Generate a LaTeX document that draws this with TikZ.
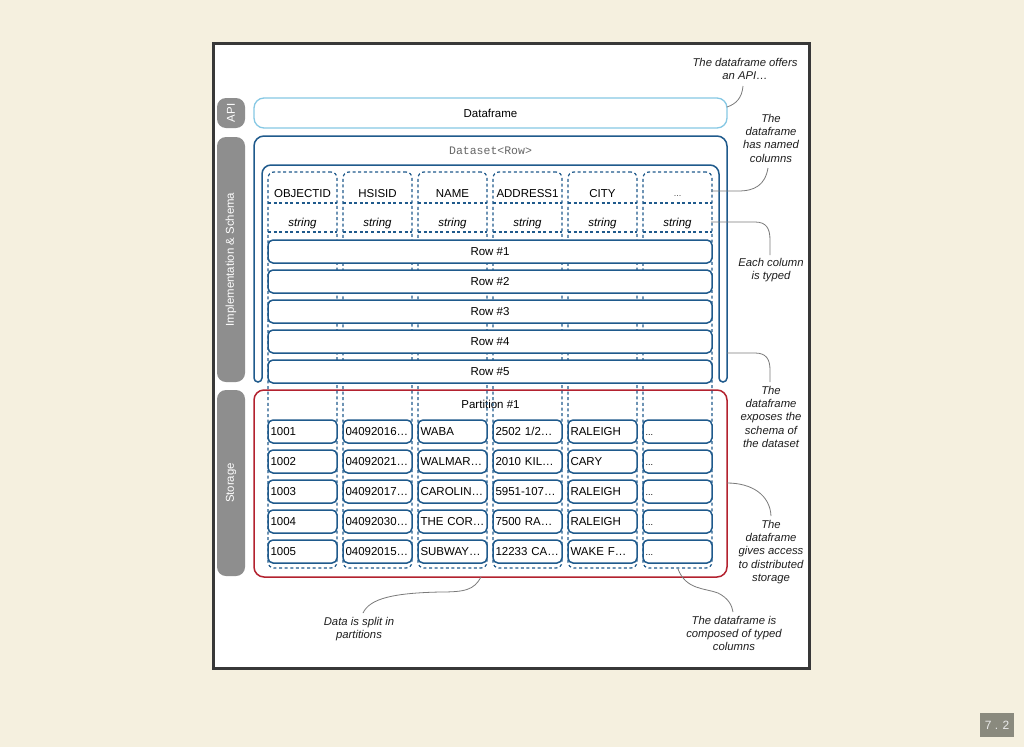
\documentclass[tikz,border=0pt]{standalone}
\usepackage{fontspec}
\setmainfont{Liberation Sans}
\setmonofont{Liberation Mono}
\definecolor{bgc}{HTML}{F5F0DF}
\definecolor{framec}{HTML}{383838}
\definecolor{labgray}{HTML}{8E8E8E}
\definecolor{dfblue}{HTML}{86C8E4}
\definecolor{dsblue}{HTML}{1F5A8C}
\definecolor{partred}{HTML}{B3222F}
\definecolor{connc}{HTML}{7A7A7A}
\definecolor{annc}{HTML}{1E1E1E}
\definecolor{pgbox}{HTML}{8A8A7E}
\newcommand\fsmain{\fontsize{11.5}{13.5}\selectfont}
\newcommand\mkcellrow[7]{%
  \node[cell] (c#1a) at (268,#2) {\mbox{#3}};
  \node[cell] (c#1b) at (343,#2) {\mbox{#4}};
  \node[cell] (c#1c) at (418,#2) {\mbox{#5}};
  \node[cell] (c#1d) at (493,#2) {\mbox{#6}};
  \node[cell] (c#1e) at (568,#2) {\mbox{#7}};
  \node[cell] (c#1f) at (643,#2) {{\fontsize{9}{10}\selectfont ...}};
}
\begin{document}
\begin{tikzpicture}[x=1pt,y=-1pt,
  every node/.style={inner sep=0pt, outer sep=0pt},
  sidebox/.style={fill=labgray, rounded corners=9, text=white, font=\fontsize{11.4}{13}\selectfont, rotate=90, minimum height=28},
  dfbox/.style={draw=dfblue, line width=1.3, rounded corners=10, fill=white, font=\fsmain, text=annc},
  dsframe/.style={draw=dsblue, line width=1.5},
  partbox/.style={draw=partred, line width=1.5, rounded corners=10},
  coldash/.style={draw=dsblue, line width=1.2, dash pattern=on 3pt off 2.6pt, rounded corners=6},
  colline/.style={draw=dsblue, line width=1.2, dash pattern=on 3pt off 2.6pt},
  rowbox/.style={draw=dsblue, line width=1.5, fill=white, rounded corners=5, minimum width=444, minimum height=23, text height=8.3, text depth=0pt, font=\fsmain, anchor=north west},
  cell/.style={draw=dsblue, line width=1.5, fill=white, rounded corners=5, minimum height=23, text width=64, align=left, inner xsep=2.5, text height=8.3, text depth=0pt, font=\fsmain, anchor=north west},
  hdr/.style={font=\fsmain, anchor=base},
  typ/.style={font=\fsmain\itshape, anchor=base},
  ann/.style={font=\fontsize{11.3}{13.3}\selectfont\itshape, align=center, text=annc, anchor=north},
  conn/.style={draw=connc, line width=0.8}
]
\fill[bgc] (0,0) rectangle (1024,747);
\useasboundingbox (0,0) rectangle (1024,747);
% slide frame
\draw[framec, line width=3.5, fill=white] (213.5,43.5) rectangle (809.5,668.5);
% page number
\node[fill=pgbox, minimum width=34, minimum height=24, text=white!92!black, font=\fontsize{12}{14}\selectfont] (pg) at (997,725) {7 . 2};
% side labels
\node[sidebox, minimum width=30] (sapi) at (231,113) {API};
\node[sidebox, minimum width=245] (simp) at (231,259.5) {Implementation \& Schema};
\node[sidebox, minimum width=186] (ssto) at (231,483) {Storage};
% Dataframe
\node[dfbox, minimum width=473, minimum height=30, anchor=north west] (df) at (254,98) {};
\node[font=\fsmain, anchor=base] (dft) at (490.5,117) {Dataframe};
% Dataset frame
\draw[dsframe] (254,300) [rounded corners=10] -- (254,136) -- (727,136) -- (727,300) [rounded corners=4] -- (727,382) -- (719,382) -- (719,300) [rounded corners=9] -- (719,165) -- (262,165) -- (262,300) [rounded corners=4] -- (262,382) -- (254,382) -- cycle;
\node[font=\fontsize{11.5}{13.5}\selectfont\ttfamily, text=black!60, anchor=base] (dst) at (490.5,154) {Dataset<Row>};
% Partition
\node[partbox, minimum width=473, minimum height=187, anchor=north west] (part) at (254,390) {};
\node[font=\fsmain, anchor=base] (ptt) at (490.5,408) {Partition \#1};
% columns
\foreach \i in {0,...,5}{
  \node[coldash, minimum width=69, minimum height=396, anchor=north west] (col\i) at (268+75*\i,172) {};
  \draw[colline] (268+75*\i,203) -- ++(69,0);
  \draw[colline] (268+75*\i,232) -- ++(69,0);
}
\foreach \i/\h in {0/OBJECTID,1/HSISID,2/NAME,3/ADDRESS1,4/CITY}{
  \node[hdr] (h\i) at (302.5+75*\i,197) {\h};
}
\node[hdr, font=\fontsize{9}{10}\selectfont, text=black!70] (h5) at (677.5,196) {...};
\foreach \i in {0,...,5}{
  \node[typ] (t\i) at (302.5+75*\i,226) {string};
}
% rows
\foreach \j in {1,...,5}{
  \node[rowbox] (r\j) at (268,210+30*\j) {Row \#\j};
}
% cells
\mkcellrow{1}{420}{1001}{04092016…}{WABA}{2502 1/2…}{RALEIGH}
\mkcellrow{2}{450}{1002}{04092021…}{WALMAR…}{2010 KIL…}{CARY}
\mkcellrow{3}{480}{1003}{04092017…}{CAROLIN…}{5951-107…}{RALEIGH}
\mkcellrow{4}{510}{1004}{04092030…}{THE COR…}{7500 RA…}{RALEIGH}
\mkcellrow{5}{540}{1005}{04092015…}{SUBWAY…}{12233 CA…}{WAKE F…}
% annotations
\node[ann] (n1) at (745,58) {The dataframe offers\\an API…};
\node[ann] (n2) at (771,114) {The\\dataframe\\has named\\columns};
\node[ann] (n3) at (771,258.5) {Each column\\is typed};
\node[ann] (n4) at (771,386) {The\\dataframe\\exposes the\\schema of\\the dataset};
\node[ann] (n5) at (771,520) {The\\dataframe\\gives access\\to distributed\\storage};
\node[ann] (n6) at (359,617) {Data is split in\\partitions};
\node[ann] (n7) at (734,616) {The dataframe is\\composed of typed\\columns};
% connector end points
\coordinate (k1a) at (743,86);
\coordinate (k1b) at (727,107);
\coordinate (k2a) at (768,168);
\coordinate (k2b) at (711,191);
\coordinate (k3a) at (711,222);
\coordinate (k3b) at (770,255);
\coordinate (k4a) at (727,353);
\coordinate (k4b) at (770,382);
\coordinate (k5a) at (727,483);
\coordinate (k5b) at (771,516);
\coordinate (k6a) at (481,577);
\coordinate (k6b) at (363,613);
\coordinate (k7a) at (678,569);
\coordinate (k7b) at (733,612);
\draw[conn] (k1a) .. controls (742,98) and (736,104) .. (k1b);
\draw[conn] (k2a) .. controls (765,185) and (755,191) .. (738,191) -- (k2b);
\draw[conn] (k3a) -- (755,222) .. controls (766,222) and (770,228) .. (770,240) -- (k3b);
\draw[conn] (k4a) -- (755,353) .. controls (766,353) and (770,359) .. (770,370) -- (k4b);
\draw[conn] (k5a) .. controls (752,483) and (770,495) .. (k5b);
\draw[conn] (k6a) .. controls (474,590) and (465,592) .. (440,592) .. controls (395,593) and (370,598) .. (k6b);
\draw[conn] (k7a) .. controls (686,590) and (705,588) .. (718,593) .. controls (728,598) and (732,605) .. (k7b);
\end{tikzpicture}
\end{document}
